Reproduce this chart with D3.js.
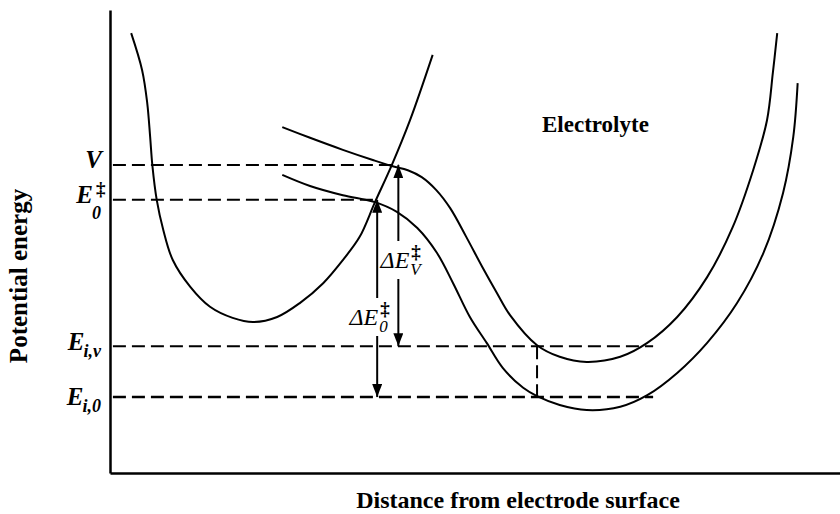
<!DOCTYPE html>
<html>
<head>
<meta charset="utf-8">
<script src="https://cdn.jsdelivr.net/npm/d3@7"></script>
<style>
body { margin: 0; background: #fff; }
svg text { font-family: "Liberation Serif", "Times New Roman", serif; fill: #000; }
</style>
</head>
<body>
<svg id="chart" width="840" height="514"></svg>
<script>
// distance from electrode (0-100) and potential energy (0-100)
var wellX = [2.9, 4.4, 5.1, 5.5, 5.8, 6.4, 7.3, 8.6, 11.0, 13.7, 16.8, 19.6, 22.9, 26.0, 29.2, 31.9, 34.2, 36.3, 38.6, 41.1, 44.2]
var wellE = [95.0, 87.0, 79.9, 72.6, 66.5, 59.0, 52.5, 46.0, 40.2, 35.9, 33.5, 32.6, 33.7, 36.7, 41.0, 46.0, 51.0, 58.5, 66.5, 76.2, 90.3]

var upperX = [23.6, 27.4, 31.9, 36.0, 38.6, 40.8, 42.7, 44.7, 46.6, 48.8, 51.0, 53.0, 54.8, 58.5, 61.6, 65.3, 69.9, 73.6, 77.7, 81.8, 85.3, 88.1, 90.0, 90.8, 91.4]
var upperE = [74.7, 72.4, 69.8, 67.6, 66.3, 65.4, 63.9, 61.1, 57.2, 51.0, 44.5, 38.9, 34.1, 27.6, 25.1, 24.0, 25.1, 28.1, 33.7, 42.3, 53.1, 65.4, 76.2, 86.4, 95.0]

var lowerX = [23.6, 27.4, 31.9, 36.3, 39.3, 42.1, 44.8, 47.0, 49.3, 51.6, 53.8, 56.6, 58.5, 61.6, 65.3, 69.9, 73.6, 77.7, 81.8, 85.9, 89.5, 92.2, 93.6, 94.2]
var lowerE = [64.4, 62.0, 60.0, 58.5, 56.4, 52.9, 47.5, 41.0, 33.7, 28.1, 22.7, 18.4, 16.6, 14.7, 13.6, 14.3, 16.8, 21.6, 28.1, 36.7, 47.5, 60.5, 72.6, 84.2]

// energy levels: V, E0‡, Ei,v, Ei,0
var levelE = [66.5, 59.0, 27.4, 16.4]
var levelEnd = [39.5, 36.6, 74.4, 74.4]
var levelBase = ["V", "E", "E", "E"]
var levelSup = ["", "\u2021", "", ""]
var levelSub = ["", "0", "i,v", "i,0"]

// barrier arrows ΔE‡V and ΔE‡0
var arrowX = [39.5, 36.6]
var arrowTop = [66.5, 59.0]
var arrowBottom = [27.4, 16.4]
var arrowSub = ["V", "0"]

var dropX = 58.5

var svg = d3.select("#chart")
var x = d3.scaleLinear().domain([0, 100]).range([110, 840])
var y = d3.scaleLinear().domain([0, 100]).range([473, 10])

svg.append("rect").attr("width", 840).attr("height", 514).attr("fill", "#fff")

svg.append("defs").append("marker")
	.attr("id", "head")
	.attr("viewBox", "0 -5 13 10")
	.attr("refX", 13)
	.attr("refY", 0)
	.attr("markerWidth", 13)
	.attr("markerHeight", 10)
	.attr("markerUnits", "userSpaceOnUse")
	.attr("orient", "auto-start-reverse")
	.append("path")
	.attr("d", "M0,-5L13,0L0,5Z")
	.attr("fill", "#000")

// axes, no ticks
svg.append("g")
	.attr("transform", "translate(0," + y(0) + ")")
	.call(d3.axisBottom(x).ticks(0).tickSizeOuter(0))
svg.append("g")
	.attr("transform", "translate(" + x(0) + ",0)")
	.call(d3.axisLeft(y).ticks(0).tickSizeOuter(0))
svg.selectAll(".domain").attr("stroke", "#000").attr("stroke-width", 2.5)

// dashed levels
svg.append("g").selectAll("line")
	.data(levelE)
	.enter()
	.append("line")
	.attr("x1", x(0.4))
	.attr("x2", function(d, i) { return x(levelEnd[i]) })
	.attr("y1", function(d) { return y(d) })
	.attr("y2", function(d) { return y(d) })
	.attr("stroke", "#000")
	.attr("stroke-width", function(d, i) { return i == 3 ? 2.6 : 2 })
	.attr("stroke-dasharray", "13,6")

svg.append("line")
	.attr("x1", x(dropX)).attr("x2", x(dropX))
	.attr("y1", y(levelE[2])).attr("y2", y(levelE[3]))
	.attr("stroke", "#000")
	.attr("stroke-width", 2)
	.attr("stroke-dasharray", "13,6")

// potential curves
var line = d3.line()
	.x(function(d) { return x(d[0]) })
	.y(function(d) { return y(d[1]) })
	.curve(d3.curveCatmullRom.alpha(0.5))

var curves = [d3.zip(wellX, wellE), d3.zip(upperX, upperE), d3.zip(lowerX, lowerE)]
svg.append("g").selectAll("path")
	.data(curves)
	.enter()
	.append("path")
	.attr("d", line)
	.attr("fill", "none")
	.attr("stroke", "#000")
	.attr("stroke-width", 2)

// arrows
svg.append("g").selectAll("line")
	.data(arrowX)
	.enter()
	.append("line")
	.attr("x1", function(d) { return x(d) })
	.attr("x2", function(d) { return x(d) })
	.attr("y1", function(d, i) { return y(arrowTop[i]) })
	.attr("y2", function(d, i) { return y(arrowBottom[i]) })
	.attr("stroke", "#000")
	.attr("stroke-width", 2)
	.attr("marker-start", "url(#head)")
	.attr("marker-end", "url(#head)")

// arrow labels, with a gap cut in the shaft behind them
var arrowLabelPos = [[11, 268], [1, 325]]
arrowX.forEach(function(d, i) {
    var ax = x(d)
    var g = svg.append("g")
    var gap = g.append("rect").attr("fill", "#fff")
    var lx = ax + arrowLabelPos[i][0], ly = arrowLabelPos[i][1]
    g.append("text")
	.attr("x", lx).attr("y", ly)
	.attr("text-anchor", "end")
	.attr("font-style", "italic")
	.attr("font-size", 24)
	.text("\u0394E")
    g.append("text")
	.attr("x", lx + 2).attr("y", ly - 10)
	.attr("font-weight", "bold")
	.attr("font-size", 19)
	.text("\u2021")
    g.append("text")
	.attr("x", lx + 1).attr("y", ly + 7)
	.attr("font-style", "italic")
	.attr("font-size", 17)
	.text(arrowSub[i])
    var b = g.node().getBBox()
    gap.attr("x", ax - 4).attr("width", 8)
	.attr("y", b.y).attr("height", b.height)
})

// level labels on the left
var labelDy = [3, 3, 4, 8]
levelE.forEach(function(d, i) {
    var base = y(d) + labelDy[i]
    var g = svg.append("g")
	.attr("font-weight", "bold")
	.attr("font-style", "italic")
    var sub = g.append("text")
	.attr("font-size", 18)
	.text(levelSub[i])
    var subW = levelSub[i] ? sub.node().getComputedTextLength() : 0
    var right = 102 - subW
    g.append("text")
	.attr("x", right).attr("y", base)
	.attr("text-anchor", "end")
	.attr("font-size", 25)
	.text(levelBase[i])
    sub.attr("x", right - 1).attr("y", base + (levelSup[i] ? 16 : 7))
    if (levelSup[i]) {
	g.append("text")
	    .attr("x", right + 3).attr("y", base - 8)
	    .attr("font-style", "normal")
	    .attr("font-size", 19)
	    .text(levelSup[i])
    }
})

svg.append("text")
    .attr("x", 542).attr("y", 132)
    .attr("font-weight", "bold")
    .attr("font-size", 23)
    .text("Electrolyte")

svg.append("text")
    .attr("x", 518).attr("y", 508)
    .attr("text-anchor", "middle")
    .attr("font-weight", "bold")
    .attr("font-size", 24)
    .text("Distance from electrode surface")

svg.append("text")
    .attr("transform", "translate(27,276) rotate(-90)")
    .attr("text-anchor", "middle")
    .attr("font-weight", "bold")
    .attr("font-size", 25)
    .text("Potential energy")
</script>
</body>
</html>
